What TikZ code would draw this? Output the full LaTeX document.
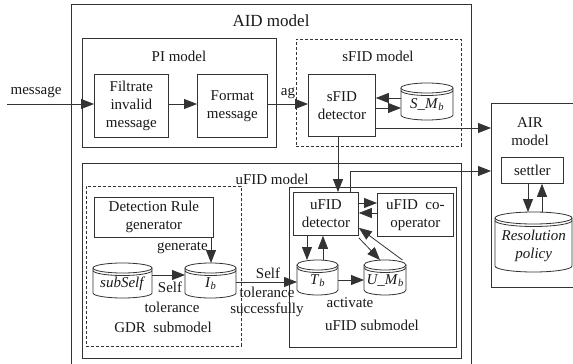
\documentclass[tikz,border=0pt]{standalone}
\usepackage{fontspec}
\setmainfont{Liberation Serif}
\usetikzlibrary{arrows.meta}
\newcommand\fsz{\fontsize{15}{18}\selectfont}
\newcommand\sub[1]{\textsubscript{\textit{#1}}}
\tikzset{
  ln/.style={draw=black!80, line width=0.8pt},
  blk/.style={ln, inner sep=0pt, anchor=north west},
  dsh/.style={blk, dash pattern=on 3pt off 2pt},
  txt/.style={font=\fsz, align=center, inner sep=0pt, text=black!90},
  arr/.style={ln, -{Triangle[length=13pt,width=10pt]}},
}
% name, x1, y1, x2, y2 (pixel, y down), ry, text
\newcommand\dbcyl[7]{%
  \node[inner sep=0pt, minimum width={(#4-#2)*1pt}, minimum height={(#5-#3)*1pt}, anchor=north west] (#1) at (#2,-#3) {};
  \draw[ln, fill=white] ({(#2+#4)/2},{-#3-#6}) ellipse [x radius={(#4-#2)/2}, y radius=#6];
  \draw[ln] (#2,{-#3-#6-2.5}) arc[start angle=180, end angle=360, x radius={(#4-#2)/2}, y radius=#6];
  \draw[ln] (#2,{-#3-#6}) -- (#2,{-#5+#6}) arc[start angle=180, end angle=360, x radius={(#4-#2)/2}, y radius=#6] -- (#4,{-#3-#6});
  \node[txt] (#1-t) at ([yshift={-#6*0.6pt}]#1.center) {#7};
}
\newcommand\boxn[6]{% style, name, x1, y1, x2, y2
  \node[#1, minimum width={(#5-#3)*1pt}, minimum height={(#6-#4)*1pt}] (#2) at (#3,-#4) {};
}
\begin{document}
\begin{tikzpicture}[x=1pt,y=1pt]
\useasboundingbox (0,0) rectangle (573,-364);
\fill[white] (0,0) rectangle (573,-364);
% outer boxes
\boxn{blk}{aid}{71}{4}{471}{372}
\node[txt, font=\fontsize{17}{20}\selectfont] (aidt) at (271,-21) {AID model};
\boxn{blk}{pi}{82}{38}{276}{147}
\node[txt] (pit) at (179,-56) {PI model};
\boxn{blk}{fil}{94}{74}{168}{137}
\node[txt] (filt) at (fil.center) {Filtrate\\invalid\\message};
\boxn{blk}{fmt}{197}{74}{267}{137}
\node[txt] (fmtt) at (fmt.center) {Format\\message};
\coordinate (msgin) at (7,-104);
\node[txt] (msgl) at (36,-92) {message};
\node[txt] (agl) at (288,-93) {ag};
% sFID
\boxn{dsh}{sfm}{296}{39}{461}{146}
\node[txt] (sfmt) at (378,-56) {sFID model};
\boxn{blk}{sfd}{308}{74}{375}{136}
\node[txt] (sfdt) at (sfd.center) {sFID\\detector};
\dbcyl{smb}{401}{83}{453}{120}{5}{\textit{S\_M}\sub{b}}
% AIR
\boxn{blk}{air}{491}{103}{590}{287}
\node[txt] (airt) at (530,-132) {AIR\\model};
\boxn{blk}{set}{501}{157}{563}{183}
\node[txt] (sett) at (set.center) {settler};
\dbcyl{res}{495}{212}{572}{272}{6}{\textit{Resolution}\\\textit{policy}}
% uFID model
\boxn{blk}{ufm}{82}{163}{461}{358}
\node[txt] (ufmt) at (272,-179) {uFID model};
\boxn{blk}{ufs}{289}{187}{456}{347}
\node[txt] (ufst) at (372,-325) {uFID submodel};
\boxn{blk}{det}{293}{192}{358}{235}
\node[txt] (dett) at (det.center) {uFID\\detector};
\boxn{blk}{coop}{377}{193}{453}{236}
\node[txt] (coopt) at (coop.center) {uFID~~co-\\operator};
\dbcyl{tb}{297}{260}{338}{295}{5}{\textit{T}\sub{b}}
\dbcyl{umb}{364}{260}{406}{295}{5}{\textit{U\_M}\sub{b}}
\node[txt] (actl) at (350,-303) {activate};
% GDR
\boxn{dsh}{gdr}{86}{186}{241}{346}
\node[txt] (gdrt) at (163,-327) {GDR~~submodel};
\boxn{blk}{gen}{94}{197}{213}{237}
\node[txt] (gent) at (gen.center) {Detection Rule\\generator};
\dbcyl{ib}{185}{263}{236}{298}{5}{\textit{I}\sub{b}}
\dbcyl{ss}{93}{263}{152}{298}{5}{\textit{subSelf}}
\node[txt, anchor=east] (genl) at (208,-248) {generate};
\node[txt] (self1) at (170,-287) {Self};
\node[txt] (tol1) at (172,-307) {tolerance};
\node[txt] (self2) at (268,-273) {Self};
\node[txt] (tol2) at (267,-292) {tolerance};
\node[txt] (succ) at (267,-310) {successfully};
% connectors
\draw[arr] (msgin) -- (fil.west |- msgin);
\draw[arr] (fil.east |- 0,-104) -- (fmt.west |- 0,-104);
\draw[arr] (fmt.east |- 0,-104) -- (sfd.west |- 0,-104);
\draw[arr] (smb.west |- 0,-98) -- (sfd.east |- 0,-98);
\draw[arr] (sfd.east |- 0,-108) -- (smb.west |- 0,-108);
\draw[arr] (sfd.east |- 0,-128) -- (air.west |- 0,-128);
\draw[arr] (sfd.south -| 338,0) -- (det.north -| 338,0);
\draw[arr] (det.north -| 350,0) |- (air.west |- 0,-171);
\draw[arr] (set.south -| 528,0) -- (res.north -| 528,0);
\draw[arr] (res.north -| 542,0) -- (set.south -| 542,0);
\draw[arr] (det.east |- 0,-203) -- (coop.west |- 0,-203);
\draw[arr] (coop.west |- 0,-213) -- (det.east |- 0,-213);
\draw[arr] (det.south -| 307,0) -- (tb.north -| 307,0);
\draw[arr] (tb.north -| 323,0) -- (det.south -| 323,0);
\draw[arr] (tb.east |- 0,-280) -- (umb.west |- 0,-280);
\draw[arr] ([yshift=-2pt]det.south east) -- ([xshift=16pt]umb.north west);
\draw[arr] ([xshift=-4pt]umb.north east) -- ([yshift=8pt]det.south east);
\draw[arr] (gen.south -| 211,0) -- (ib.north -| 211,0);
\draw[arr] (ss.east |- 0,-275) -- (ib.west |- 0,-275);
\draw[arr] (ib.east |- 0,-282) -- (tb.west |- 0,-282);
\end{tikzpicture}
\end{document}
